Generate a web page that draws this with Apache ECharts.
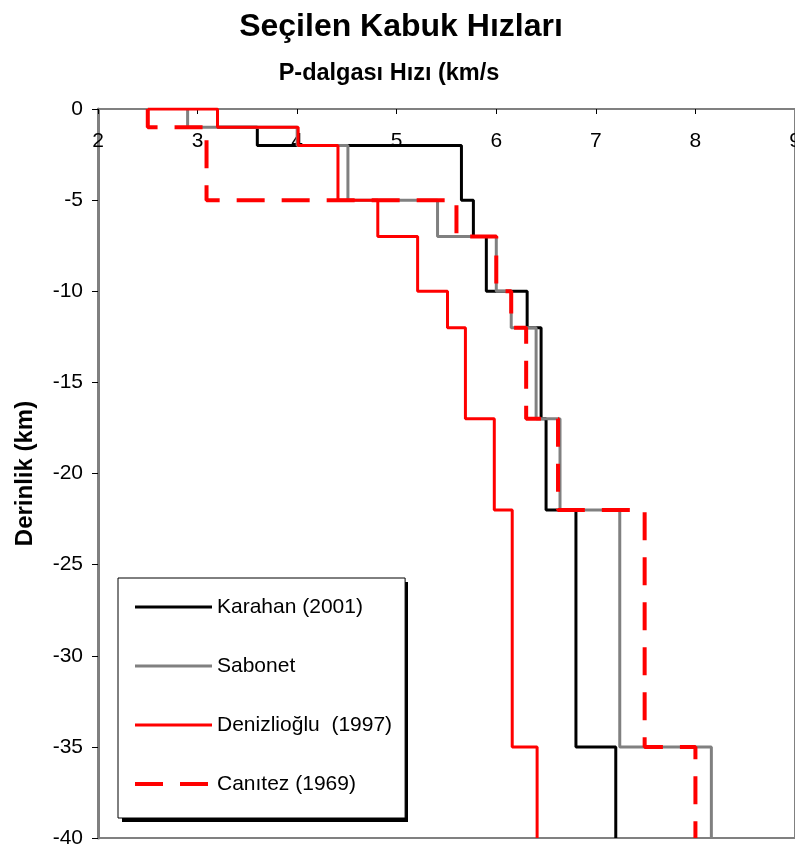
<!DOCTYPE html>
<html>
<head>
<meta charset="utf-8">
<script src="https://cdn.jsdelivr.net/npm/echarts@6/dist/echarts.min.js"></script>
<style>
html,body{margin:0;padding:0;background:#fff;overflow:hidden;}
#chart{width:795px;height:847px;}
</style>
</head>
<body>
<div id="chart"></div>
<script>
// Layer boundaries (depth, km)
var depths = [0, -1, -2, -5, -7, -10, -12, -17, -22, -35, -40];
// P-wave velocity of each layer (km/s)
var karahan = [3.2, 3.6, 5.65, 5.77, 5.9, 6.31, 6.45, 6.5, 6.8, 7.2];
var sabonet = [2.9, 4.0, 4.51, 5.41, 6.0, 6.15, 6.4, 6.64, 7.24, 8.16];
var denizlioglu = [3.2, 4.01, 4.41, 4.81, 5.21, 5.51, 5.69, 5.98, 6.16, 6.41];
var denizliogluSurface = 2.5;
var canitez = [2.5, 3.09, 3.09, 5.6, 6.0, 6.15, 6.3, 6.62, 7.49, 8.0];
var seriesNames = ['Karahan (2001)', 'Sabonet', 'Denizlioğlu  (1997)', 'Canıtez (1969)'];
var xTicks = [2, 3, 4, 5, 6, 7, 8, 9];
var yTicks = [0, -5, -10, -15, -20, -25, -30, -35, -40];

function steps(v, surface) {
  var pts = [];
  if (surface !== undefined) pts.push([surface, depths[0]]);
  for (var i = 0; i < v.length; i++) {
    pts.push([v[i], depths[i]]);
    pts.push([v[i], depths[i + 1]]);
  }
  return pts;
}

var lineStyles = [
  { color: '#000000', width: 3 },
  { color: '#808080', width: 3 },
  { color: '#ff0000', width: 3 },
  { color: '#ff0000', width: 4, type: [28, 17] }
];

var FONT = '"Liberation Sans", Arial, sans-serif';
var chart = echarts.init(document.getElementById('chart'));
chart.setOption({
  animation: false,
  backgroundColor: '#fff',
  title: [
    { text: 'Seçilen Kabuk Hızları', left: 396, top: 6, textAlign: 'center',
      textStyle: { fontFamily: FONT, fontWeight: 'bold', fontSize: 32, color: '#000' } },
    { text: 'P-dalgası Hızı (km/s', left: 384, top: 57, textAlign: 'center',
      textStyle: { fontFamily: FONT, fontWeight: 'bold', fontSize: 23.5, color: '#000' } }
  ],
  grid: { left: 98, right: 0, top: 109, bottom: 9, outerBoundsMode: 'none', containLabel: false,
    show: true, borderColor: '#808080', borderWidth: 2, backgroundColor: '#fff' },
  graphic: [
    { type: 'rect', z: 3, left: 122, top: 582, shape: { width: 286, height: 240 },
      style: { fill: '#000' }, silent: true }
  ],
  legend: {
    orient: 'vertical', left: 118, top: 578, z: 5,
    padding: [17, 13, 22, 15],
    itemWidth: 77, itemHeight: 24, itemGap: 35,
    itemStyle: { opacity: 0 },
    backgroundColor: '#fff', borderColor: '#000', borderWidth: 1,
    textStyle: { fontFamily: FONT, fontSize: 21, color: '#000', lineHeight: 24 },
    data: seriesNames.map(function (n, i) {
      return { name: n, lineStyle: lineStyles[i], itemStyle: { opacity: 0 } };
    })
  },
  xAxis: {
    type: 'value', position: 'top', min: xTicks[0], max: xTicks[xTicks.length - 1], interval: 1,
    axisLine: { show: true, lineStyle: { color: '#808080', width: 2 } },
    axisTick: { show: true, inside: true, length: 5, lineStyle: { color: '#000', width: 1 } },
    axisLabel: { inside: true, margin: 22, fontFamily: FONT, fontSize: 21, color: '#000' },
    splitLine: { show: false }
  },
  yAxis: {
    type: 'value', min: yTicks[yTicks.length - 1], max: yTicks[0], interval: 5,
    name: 'Derinlik (km)', nameLocation: 'middle', nameGap: 61, nameRotate: 90,
    nameTextStyle: { fontFamily: FONT, fontWeight: 'bold', fontSize: 24, color: '#000' },
    axisLine: { show: true, lineStyle: { color: '#808080', width: 3 } },
    axisTick: { show: true, length: 6, lineStyle: { color: '#000', width: 1 } },
    axisLabel: { margin: 15, fontFamily: FONT, fontSize: 21, color: '#000' },
    splitLine: { show: false }
  },
  series: [
    { name: seriesNames[0], type: 'line', symbol: 'none', data: steps(karahan),
      lineStyle: lineStyles[0], itemStyle: { color: lineStyles[0].color } },
    { name: seriesNames[1], type: 'line', symbol: 'none', data: steps(sabonet),
      lineStyle: lineStyles[1], itemStyle: { color: lineStyles[1].color } },
    { name: seriesNames[2], type: 'line', symbol: 'none', data: steps(denizlioglu, denizliogluSurface),
      lineStyle: lineStyles[2], itemStyle: { color: lineStyles[2].color } },
    { name: seriesNames[3], type: 'line', symbol: 'none', data: steps(canitez),
      lineStyle: lineStyles[3], itemStyle: { color: lineStyles[3].color } }
  ]
});
</script>
</body>
</html>
